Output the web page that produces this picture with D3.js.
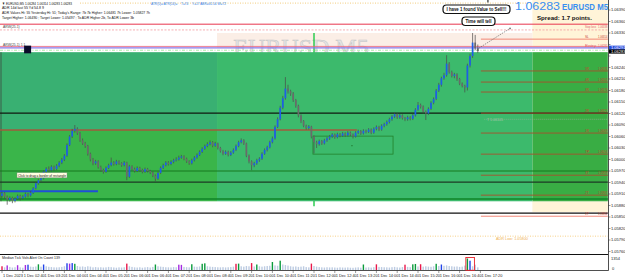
<!DOCTYPE html>
<html>
<head>
<meta charset="utf-8">
<script src="https://cdn.jsdelivr.net/npm/d3@7"></script>
<style>
body { margin: 0; background: #fff; }
svg { display: block; font-family: "Liberation Sans", Arial, sans-serif; }
</style>
</head>
<body>
<svg id="chart" width="625" height="279"></svg>
<script>
// prices are kept in points above 1.05000 (1283 -> 1.06283), M5 bars from 02:00
const firstOpen = 905
const closes = [
  912,903,895,900,892,898,905,899,903,910,906,913,
  925,938,946,951,968,976,972,981,975,984,992,1000,
  1010,1038,1060,1075,1080,1068,1050,1042,1035,1015,1000,990,
  995,980,972,968,978,985,992,988,995,990,985,992,
  955,982,975,970,978,972,968,975,970,966,958,950,
  965,978,985,992,988,994,998,1000,1005,1008,1002,995,
  990,998,1005,1012,1020,1028,1035,1040,1045,1036,1042,1030,
  1022,1015,1020,1012,1018,1025,1035,1045,1050,1042,1010,995,
  985,990,998,1002,1015,1025,1032,1045,1055,1085,1105,1135,
  1160,1185,1178,1172,1155,1140,1115,1100,1088,1082,1086,1060,
  1045,1040,1048,1042,1050,1055,1060,1065,1058,1066,1062,1068,
  1063,1070,1065,1060,1070,1074,1068,1075,1072,1078,1070,1080,
  1085,1078,1088,1092,1098,1105,1112,1118,1110,1115,1108,1105,
  1110,1106,1115,1130,1142,1138,1125,1120,1132,1148,1158,1180,
  1195,1212,1220,1250,1228,1218,1222,1210,1198,1192,1188,1245,
  1270,1305,1290,1283
]
const highs = [
  916,915,906,904,903,902,909,908,907,914,913,918,
  928,941,950,956,972,980,982,985,984,988,996,1004,
  1014,1042,1064,1080,1090,1084,1072,1055,1046,1038,1018,1004,
  999,998,984,976,982,989,1005,996,999,998,993,996,
  994,986,985,979,982,981,976,979,978,973,969,961,
  969,982,989,996,996,998,1002,1006,1010,1012,1011,1005,
  998,1002,1009,1016,1024,1032,1039,1045,1050,1048,1046,1044,
  1033,1025,1024,1023,1022,1029,1039,1049,1055,1053,1044,1013,
  998,994,1002,1006,1019,1029,1036,1049,1060,1089,1110,1140,
  1166,1215,1195,1182,1176,1158,1143,1118,1103,1091,1090,1088,
  1063,1049,1052,1051,1054,1059,1064,1069,1068,1070,1069,1072,
  1071,1074,1073,1068,1074,1078,1077,1079,1078,1082,1081,1084,
  1089,1088,1092,1096,1102,1109,1116,1124,1121,1119,1118,1111,
  1114,1113,1119,1134,1150,1146,1141,1128,1136,1152,1162,1184,
  1200,1216,1226,1272,1254,1232,1226,1225,1213,1201,1195,1250,
  1276,1330,1325,1300
]
const lows = [
  900,897,882,890,886,888,894,893,895,900,901,903,
  910,922,934,942,948,964,968,969,970,972,980,988,
  996,1007,1035,1056,1070,1064,1046,1038,1030,1010,995,985,
  986,976,968,963,965,975,982,984,985,986,981,982,
  946,952,971,966,967,968,964,965,966,962,954,942,
  947,962,975,982,984,985,990,995,997,1002,998,991,
  986,987,995,1002,1009,1017,1025,1032,1037,1032,1033,1026,
  1018,1011,1012,1008,1009,1015,1022,1032,1042,1038,1006,990,
  972,980,986,994,999,1012,1021,1029,1042,1052,1082,1102,
  1131,1156,1172,1166,1150,1135,1110,1095,1084,1078,1078,1055,
  1016,1030,1036,1038,1039,1046,1051,1056,1054,1055,1058,1059,
  1059,1060,1061,1055,1057,1066,1064,1065,1068,1069,1066,1067,
  1076,1074,1075,1084,1088,1094,1101,1108,1106,1106,1104,1100,
  1101,1102,1103,1112,1127,1133,1120,1103,1116,1129,1144,1155,
  1176,1190,1208,1216,1224,1214,1212,1205,1194,1188,1175,1180,
  1240,1265,1285,1278
]
const volumes = [
  420,300,520,350,280,310,540,300,260,560,600,380,
  350,400,640,380,620,420,360,330,300,290,310,350,
  420,760,720,780,700,450,380,400,350,420,380,300,
  330,290,310,280,300,350,320,290,260,300,280,310,
  720,420,350,300,280,310,260,300,330,280,350,620,
  420,380,350,310,300,290,330,310,600,580,350,320,
  300,650,380,360,400,700,750,420,380,350,330,310,
  300,320,290,310,330,380,700,720,420,380,450,420,
  780,400,620,420,380,420,450,480,900,520,480,1050,
  620,560,500,420,380,400,350,380,420,330,300,720,
  450,380,330,300,280,310,290,300,280,260,300,280,
  270,290,260,250,280,300,260,620,280,300,270,320,
  640,350,330,310,300,280,320,350,300,280,330,600,
  350,320,640,680,400,650,380,420,380,360,420,700,
  450,620,480,520,450,420,380,400,350,380,500,1300,
  1050,420,600,300
]
const volMarks = [[0,"r"],[2,"p"],[6,"p"],[9,"p"],[10,"b"],[14,"g"],[16,"b"],[25,"b"],[26,"p"],[27,"b"],
  [28,"g"],[48,"r"],[59,"g"],[68,"p"],[69,"p"],[73,"g"],[77,"g"],[78,"g"],[90,"r"],[91,"g"],[96,"r"],
  [98,"g"],[104,"g"],[107,"g"],[119,"r"],[139,"g"],[144,"r"],[155,"r"],[158,"g"],[159,"g"],[161,"r"],
  [167,"g"],[169,"b"],[179,"g"],[180,"b"]]
const timeLabels = ["1 Dec 2023","1 Dec 02:40","1 Dec 03:20","1 Dec 04:00","1 Dec 04:40","1 Dec 05:20",
  "1 Dec 06:00","1 Dec 06:40","1 Dec 07:20","1 Dec 08:00","1 Dec 08:40","1 Dec 09:20","1 Dec 10:00",
  "1 Dec 10:40","1 Dec 11:20","1 Dec 12:00","1 Dec 12:40","1 Dec 13:20","1 Dec 14:00","1 Dec 14:40",
  "1 Dec 15:20","1 Dec 16:00","1 Dec 16:40","1 Dec 17:20"]
const priceTicks = [1.0639,1.0636,1.0633,1.063,1.0627,1.0624,1.0621,1.0618,1.0615,1.0612,1.0609,
  1.0606,1.0603,1.06,1.0597,1.0594,1.0591,1.0588,1.0585,1.0582,1.0579,1.0576]
const fibLevels = [1314,1231,1202,1176,1121,1069,1014,959,907,852]
const fibNames = ["SL","5R","4R","3R","2R","1R","TP","3T","2T","1T"]
const bid = 1283, askLine = 1291
const adrHigh = 1408, redTop = 1353, stopDot = 1338, pinkLine = 1295, greenDash = 1285
const black1 = 1121, redMid = 1077, green1 = 970, black2 = 941, blueLine = 917, green2 = 897
const black3 = 860, adrLow = 800, targetDot = 1105
const volMax = 1354

let svg = d3.select("#chart")
const P = v => 1.05 + v / 1e5
const fmt = d3.format(".5f")
let x = d3.scaleLinear().domain([0, 233]).range([2, 607.8])
let y = d3.scaleLinear().domain([1.057, 1.064]).range([274.5, 6.17])
let yv = d3.scaleLinear().domain([0, volMax]).range([270, 258])
const L = -0.77, R = 233

svg.append("clipPath").attr("id", "main").append("rect")
    .attr("x", 0).attr("y", 0).attr("width", 608).attr("height", 254)
let g = svg.append("g").attr("clip-path", "url(#main)")

function zone(i0, i1, v0, v1, fill) {
    g.append("rect")
        .attr("x", x(i0)).attr("width", x(i1) - x(i0))
        .attr("y", y(P(v0))).attr("height", y(P(v1)) - y(P(v0)))
        .attr("fill", fill)
}
function hline(v, i0, i1, color, w, dash) {
    g.append("line")
        .attr("x1", x(i0)).attr("x2", x(i1))
        .attr("y1", y(P(v))).attr("y2", y(P(v)))
        .attr("stroke", color).attr("stroke-width", w)
        .attr("stroke-dasharray", dash || null)
}
function levelLabel(v, name, color, dy) {
    g.append("text").attr("x", 585).attr("y", y(P(v)) + dy).attr("font-size", 3.1)
        .attr("fill", color).attr("textLength", name.length > 3 ? 11 : null)
        .attr("lengthAdjust", "spacingAndGlyphs").text(name)
    g.append("text").attr("x", 607.5).attr("y", y(P(v)) + dy).attr("font-size", 3.1)
        .attr("text-anchor", "end").attr("fill", color)
        .attr("textLength", 9.5).attr("lengthAdjust", "spacingAndGlyphs").text(fmt(P(v)))
}

// backgrounds
zone(204, R, 1416, askLine, "#fff4d8")
zone(82.7, 204, 1330, askLine, "#fbeee6")
zone(204, R, 891, 863, "#fff4d8")

// watermark + period separator (behind the zones)
g.append("text").attr("x", x(115)).attr("y", y(P(1272)))
    .attr("text-anchor", "middle").attr("font-family", "Liberation Serif, serif")
    .attr("font-size", 24).attr("fill", "#e4e4e4").attr("stroke", "#c6c6c6").attr("stroke-width", 0.5)
    .text("EURUSD M5")
g.append("line").attr("x1", x(120)).attr("x2", x(120))
    .attr("y1", y(P(1330))).attr("y2", y(P(878)))
    .attr("stroke", "#2ecc52").attr("stroke-width", 1.5)

zone(L, 82.7, 1280, redMid, "#39b072")
zone(82.7, 204, 1280, 891, "#3cba6c")
zone(L, 82.7, redMid, 891, "#3ab54a")
zone(204, R, 1280, 891, "#39ad44")
g.append("line").attr("x1", 1).attr("x2", 1).attr("y1", y(P(1280))).attr("y2", y(P(891)))
    .attr("stroke", "#3d4a40").attr("stroke-width", 0.8)

// horizontal objects
hline(adrHigh, 30, 204, "#f0c060", 0.8, "1,1.5")
hline(redTop, L, R, "#e8344e", 1)
hline(stopDot, L, R, "#f29aa0", 0.8, "2,1.5")
hline(pinkLine, L, R, "#e8607a", 0.8)
hline(askLine, L, R, "#8878e8", 1.2)
hline(greenDash, L, R, "#a6e6a0", 0.9, "3,1.5,1,1.5")
hline(black1, L, R, "#101810", 1.2)
hline(redMid, L, 136.5, "#a35a3c", 1.6)
hline(green1, L, R, "#17791f", 1)
hline(black2, L, R, "#1d3a24", 1.3)
hline(green2, L, R, "#0f8427", 1.3)
hline(blueLine, L, 36.9, "#1f4fd8", 2)
hline(black3, L, R, "#111", 1.3)
hline(adrLow, L, R, "#f5c468", 0.8, "1,1.5")
hline(targetDot, 185.5, R, "#9ab09a", 0.7, "1,1")

// rectangle object
g.append("rect").attr("x", x(119.6)).attr("width", x(150.4) - x(119.6))
    .attr("y", y(P(1061))).attr("height", y(P(1014)) - y(P(1061)))
    .attr("fill", "none").attr("stroke", "#23802b").attr("stroke-width", 0.8)
g.append("circle").attr("cx", x(134.6)).attr("cy", y(P(1036))).attr("r", 0.6).attr("fill", "#1c6a22")

// candles
let bars = closes.map((c, i) => ({ i: i, o: i ? closes[i - 1] : firstOpen, c: c, h: highs[i], l: lows[i] }))
g.selectAll(".wick").data(bars).join("line")
    .attr("x1", d => x(d.i)).attr("x2", d => x(d.i))
    .attr("y1", d => y(P(d.h))).attr("y2", d => y(P(d.l)))
    .attr("stroke", "#4b4b4b").attr("stroke-width", 0.7)
g.selectAll(".body").data(bars).join("rect")
    .attr("x", d => x(d.i) - 0.85).attr("width", 1.7)
    .attr("y", d => y(P(Math.max(d.o, d.c))))
    .attr("height", d => Math.max(0.8, y(P(Math.min(d.o, d.c))) - y(P(Math.max(d.o, d.c)))))
    .attr("fill", d => d.c >= d.o ? "#1d5ee8" : "#6a6a6a")

// fib / trade levels
fibLevels.forEach((v, k) => {
    let col = v > 1280 || v < 891 ? "#f07a6a" : "#a8502c"
    hline(v, 184.2, R, col, 0.9)
    levelLabel(v, fibNames[k], "#c8402e", -1)
})
levelLabel(stopDot, "Stop loss", "#e0606a", -1.6)
levelLabel(askLine, "Entry", "#e0606a", -0.8)
g.append("text").attr("x", x(186.5)).attr("y", y(P(targetDot)) + 1.3).attr("font-size", 3.6)
    .attr("fill", "#a9c4a9").text("T " + fmt(P(targetDot)))
g.append("text").attr("x", x(190)).attr("y", y(P(adrLow)) + 4).attr("font-size", 3.8)
    .attr("fill", "#f0b050").text("ADR Low: " + fmt(P(adrLow)))

// arrow from last bar
g.append("line").attr("x1", x(183.3)).attr("y1", y(P(1290)))
    .attr("x2", x(195.4)).attr("y2", y(P(1342)))
    .attr("stroke", "#555").attr("stroke-width", 0.6).attr("stroke-dasharray", "1.5,1")
g.append("circle").attr("cx", x(195.4)).attr("cy", y(P(1342))).attr("r", 0.9).attr("fill", "#777")

// small labels on the left
g.append("text").attr("x", 3).attr("y", y(P(stopDot)) - 1.5).attr("font-size", 3.4).attr("fill", "#444")
    .text("ARW(25.1)")
g.append("text").attr("x", 3).attr("y", y(P(pinkLine)) - 0.8).attr("font-size", 3.4).attr("fill", "#444")
    .text("ARW(25.1) 1.1")
g.append("rect").attr("x", x(8.5)).attr("width", x(11.2) - x(8.5))
    .attr("y", y(P(1297))).attr("height", y(P(1277)) - y(P(1297))).attr("fill", "#0b0b2a")
g.append("rect").attr("x", 17).attr("y", 172.8).attr("width", 50).attr("height", 5)
    .attr("fill", "#ffffe1").attr("stroke", "#888").attr("stroke-width", 0.4)
g.append("text").attr("x", 18).attr("y", 176.7).attr("font-size", 3.6).attr("fill", "#111")
    .attr("textLength", 48).attr("lengthAdjust", "spacingAndGlyphs")
    .text("Click to drag a border of rectangle")

// pane separator and axes
svg.append("line").attr("x1", 0).attr("x2", 608).attr("y1", 254.5).attr("y2", 254.5)
    .attr("stroke", "#111").attr("stroke-width", 1)
svg.append("line").attr("x1", 608.5).attr("x2", 608.5).attr("y1", 0).attr("y2", 270.5)
    .attr("stroke", "#222").attr("stroke-width", 0.8)
svg.append("line").attr("x1", 0).attr("x2", 608.5).attr("y1", 270.5).attr("y2", 270.5)
    .attr("stroke", "#222").attr("stroke-width", 0.8)

let axisR = svg.append("g").attr("font-size", 4).attr("fill", "#222")
let boxY0 = y(P(askLine)) - 2.3, boxY1 = y(P(bid)) + 2.6
priceTicks.forEach(t => {
    axisR.append("line").attr("x1", 608.5).attr("x2", 610.5).attr("y1", y(t)).attr("y2", y(t))
        .attr("stroke", "#333").attr("stroke-width", 0.5)
    if (y(t) > boxY0 - 3 && y(t) < boxY1 + 3) return
    axisR.append("text").attr("x", 611).attr("y", y(t) + 1.4).text(fmt(t))
})
axisR.append("rect").attr("x", 609).attr("y", y(P(askLine)) - 2.3).attr("width", 16).attr("height", 4.2)
    .attr("fill", "#2a4ee0")
axisR.append("text").attr("x", 611).attr("y", y(P(askLine)) + 1.3).attr("fill", "#fff").text(fmt(P(askLine)))
axisR.append("rect").attr("x", 609).attr("y", y(P(bid)) - 1.6).attr("width", 16).attr("height", 4.2)
    .attr("fill", "#000")
axisR.append("text").attr("x", 611).attr("y", y(P(bid)) + 2).attr("fill", "#fff").text(fmt(P(bid)))
axisR.append("text").attr("x", 611).attr("y", yv(volMax) + 1.5).text(volMax)
axisR.append("text").attr("x", 612).attr("y", yv(0)).text("0")

// volume pane
const volColor = { r: "#e8174a", g: "#0b9b3c", b: "#2344e8", p: "#a42be0" }
let marks = new Map(volMarks)
svg.append("text").attr("x", 2).attr("y", 259.3).attr("font-size", 3.6).attr("fill", "#222")
    .attr("textLength", 58).attr("lengthAdjust", "spacingAndGlyphs")
    .text("Median Tick Vols    Alert On    Count 139")
svg.selectAll(".vol").data(volumes).join("rect")
    .attr("x", (d, i) => x(i) - 0.7).attr("width", 1.4)
    .attr("y", d => yv(d)).attr("height", d => yv(0) - yv(d))
    .attr("fill", (d, i) => marks.has(i) ? volColor[marks.get(i)] : "#bccbe2")
svg.append("rect").attr("x", x(178.4)).attr("width", x(181.7) - x(178.4))
    .attr("y", 257.5).attr("height", 12.8).attr("fill", "none")
    .attr("stroke", "#e8202a").attr("stroke-width", 0.9)

// time axis
let axisB = svg.append("g").attr("font-size", 3.9).attr("fill", "#222")
timeLabels.forEach((t, k) => {
    axisB.append("line").attr("x1", x(8 * k)).attr("x2", x(8 * k)).attr("y1", 270.5).attr("y2", 273)
        .attr("stroke", "#333").attr("stroke-width", 0.5)
    axisB.append("text").attr("x", x(8 * k) + 1).attr("y", 276.5).text(t)
})

// header comment lines
let info = svg.append("g").attr("font-size", 4.2).attr("fill", "#111")
info.append("text").attr("x", 2).attr("y", 4.5).attr("textLength", 70).attr("lengthAdjust", "spacingAndGlyphs")
    .text("\u25BC EURUSD,M5  1.06284 1.06314 1.06283 1.06283")
info.append("text").attr("x", 2).attr("y", 9.3).attr("textLength", 42).attr("lengthAdjust", "spacingAndGlyphs")
    .text("ADR 14d last 55  Yd 54.8 9")
info.append("text").attr("x", 2).attr("y", 14).attr("textLength", 148).attr("lengthAdjust", "spacingAndGlyphs")
    .text("ADR Values Hi: 55 Yesterday Hi: 51; Today's Range: 7b 7b Higher: 1.06481 7h Lower: 1.05827 7h")
info.append("text").attr("x", 2).attr("y", 18.6).attr("textLength", 132).attr("lengthAdjust", "spacingAndGlyphs")
    .text("Target Higher: 1.06490 ; Target Lower: 1.05497 ; To ADR Higher 2b, To ADR Lower 3b")
let blue = info.append("g").attr("fill", "#2f80e8").attr("font-size", 3.2)
blue.append("text").attr("x", 151).attr("y", 4.5).text("ATR(5)= ATR(14)=")
blue.append("text").attr("x", 181).attr("y", 4.5).text("T=74")
blue.append("text").attr("x", 192).attr("y", 4.5).text("Y=17 ABR=61.54 W=72")

// top-right price and spread
svg.append("text").attr("x", 515).attr("y", 10.3).attr("fill", "#3a8ff0")
    .attr("font-size", 10.5).attr("textLength", 45).attr("lengthAdjust", "spacingAndGlyphs")
    .text(fmt(P(bid)))
svg.append("text").attr("x", 562).attr("y", 10.3).attr("fill", "#3a8ff0").attr("font-weight", "bold")
    .attr("font-size", 8.5).attr("textLength", 46).attr("lengthAdjust", "spacingAndGlyphs")
    .text("EURUSD M5")
svg.append("text").attr("x", 537).attr("y", 19.5).attr("fill", "#111").attr("font-weight", "bold")
    .attr("font-size", 6).attr("textLength", 55).attr("lengthAdjust", "spacingAndGlyphs")
    .text("Spread: 1.7 points.")

// callouts
svg.append("line").attr("x1", x(186.9)).attr("x2", x(186.9)).attr("y1", 0).attr("y2", 2.5)
    .attr("stroke", "#000").attr("stroke-width", 1)
svg.append("rect").attr("x", 443).attr("y", 5).attr("width", 67).attr("height", 8.5).attr("rx", 3.5)
    .attr("fill", "#fff").attr("stroke", "#111").attr("stroke-width", 1.2)
svg.append("text").attr("x", 476.5).attr("y", 10.9).attr("text-anchor", "middle").attr("font-size", 4.8)
    .attr("font-weight", "bold").attr("fill", "#111").attr("textLength", 60).attr("lengthAdjust", "spacingAndGlyphs")
    .text("I have 1 found Value to Sell!!!")
svg.append("rect").attr("x", 462).attr("y", 17).attr("width", 33).attr("height", 8.5).attr("rx", 3.5)
    .attr("fill", "#fff").attr("stroke", "#111").attr("stroke-width", 1.2)
svg.append("text").attr("x", 478.5).attr("y", 22.9).attr("text-anchor", "middle").attr("font-size", 4.8)
    .attr("font-weight", "bold").attr("fill", "#111").attr("textLength", 26).attr("lengthAdjust", "spacingAndGlyphs")
    .text("Time will tell")
</script>
</body>
</html>
